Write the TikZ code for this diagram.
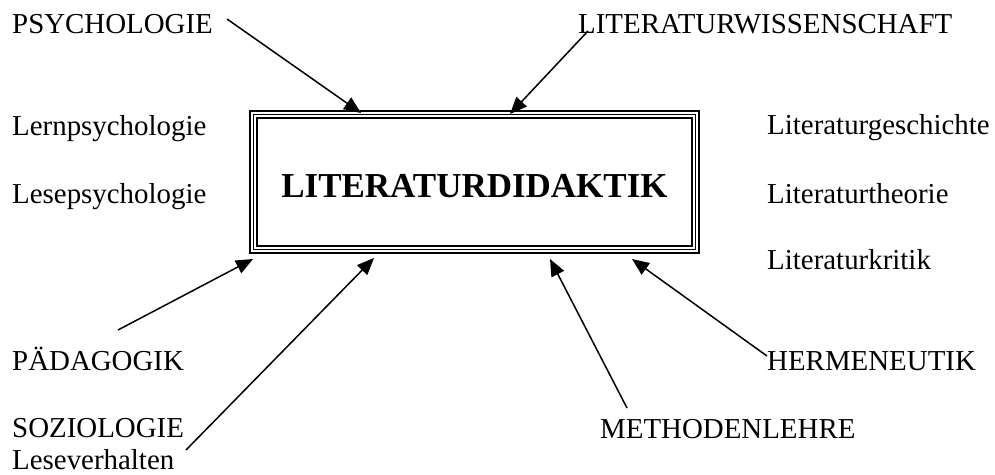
\documentclass[tikz,border=0pt]{standalone}
\usepackage{fontspec}
\setmainfont{Liberation Serif}
\usetikzlibrary{arrows.meta}

\tikzset{
  lbl/.style={anchor=base west, inner sep=0pt, font=\fontsize{28.9}{31}\selectfont},
  title/.style={anchor=base, inner sep=0pt, font=\fontsize{35}{38}\selectfont\bfseries},
  feed/.style={line width=1.5pt, -{Triangle[length=17pt,width=14pt]}}
}

\begin{document}
\begin{tikzpicture}[x=1pt, y=-1pt]
  \useasboundingbox (0,0) rectangle (995,474);

  % central framed box (triple rule)
  \draw[line width=2pt] (250,111) rectangle (699,253);
  \draw[line width=1pt] (253.8,114.8) rectangle (695.2,249.2);
  \draw[line width=2.6pt] (257,118) rectangle (692,246);
  \node[title] (lit) at (474.5,197) {LITERATURDIDAKTIK};

  % surrounding disciplines
  \node[lbl] (psy)   at (12,33)   {PSYCHOLOGIE};
  \node[lbl] (lw)    at (578,33)  {LITERATURWISSENSCHAFT};
  \node[lbl] (lern)  at (12,135)  {Lernpsychologie};
  \node[lbl] (lese)  at (12,203)  {Lesepsychologie};
  \node[lbl] (lg)    at (767,134) {Literaturgeschichte};
  \node[lbl] (lt)    at (767,203) {Literaturtheorie};
  \node[lbl] (lk)    at (767,269) {Literaturkritik};
  \node[lbl] (paed)  at (12,370)  {PÄDAGOGIK};
  \node[lbl] (soz)   at (12,437)  {SOZIOLOGIE};
  \node[lbl] (lv)    at (12,469)  {Leseverhalten};
  \node[lbl] (herm)  at (767,370) {HERMENEUTIK};
  \node[lbl] (meth)  at (600,438) {METHODENLEHRE};

  % arrow ends
  \coordinate (psyS)  at (227,19);
  \coordinate (psyE)  at (361,113);
  \coordinate (lwS)   at (588,31);
  \coordinate (lwE)   at (510,114);
  \coordinate (paedS) at (118,330);
  \coordinate (paedE) at (253,259);
  \coordinate (sozS)  at (186,450);
  \coordinate (sozE)  at (374,258);
  \coordinate (methS) at (627,408);
  \coordinate (methE) at (550,259);
  \coordinate (hermS) at (767,356);
  \coordinate (hermE) at (632,259);

  \draw[feed] (psyS) -- (psyE);
  \draw[feed] (lwS) -- (lwE);
  \draw[feed] (paedS) -- (paedE);
  \draw[feed] (sozS) -- (sozE);
  \draw[feed] (methS) -- (methE);
  \draw[feed] (hermS) -- (hermE);
\end{tikzpicture}
\end{document}
